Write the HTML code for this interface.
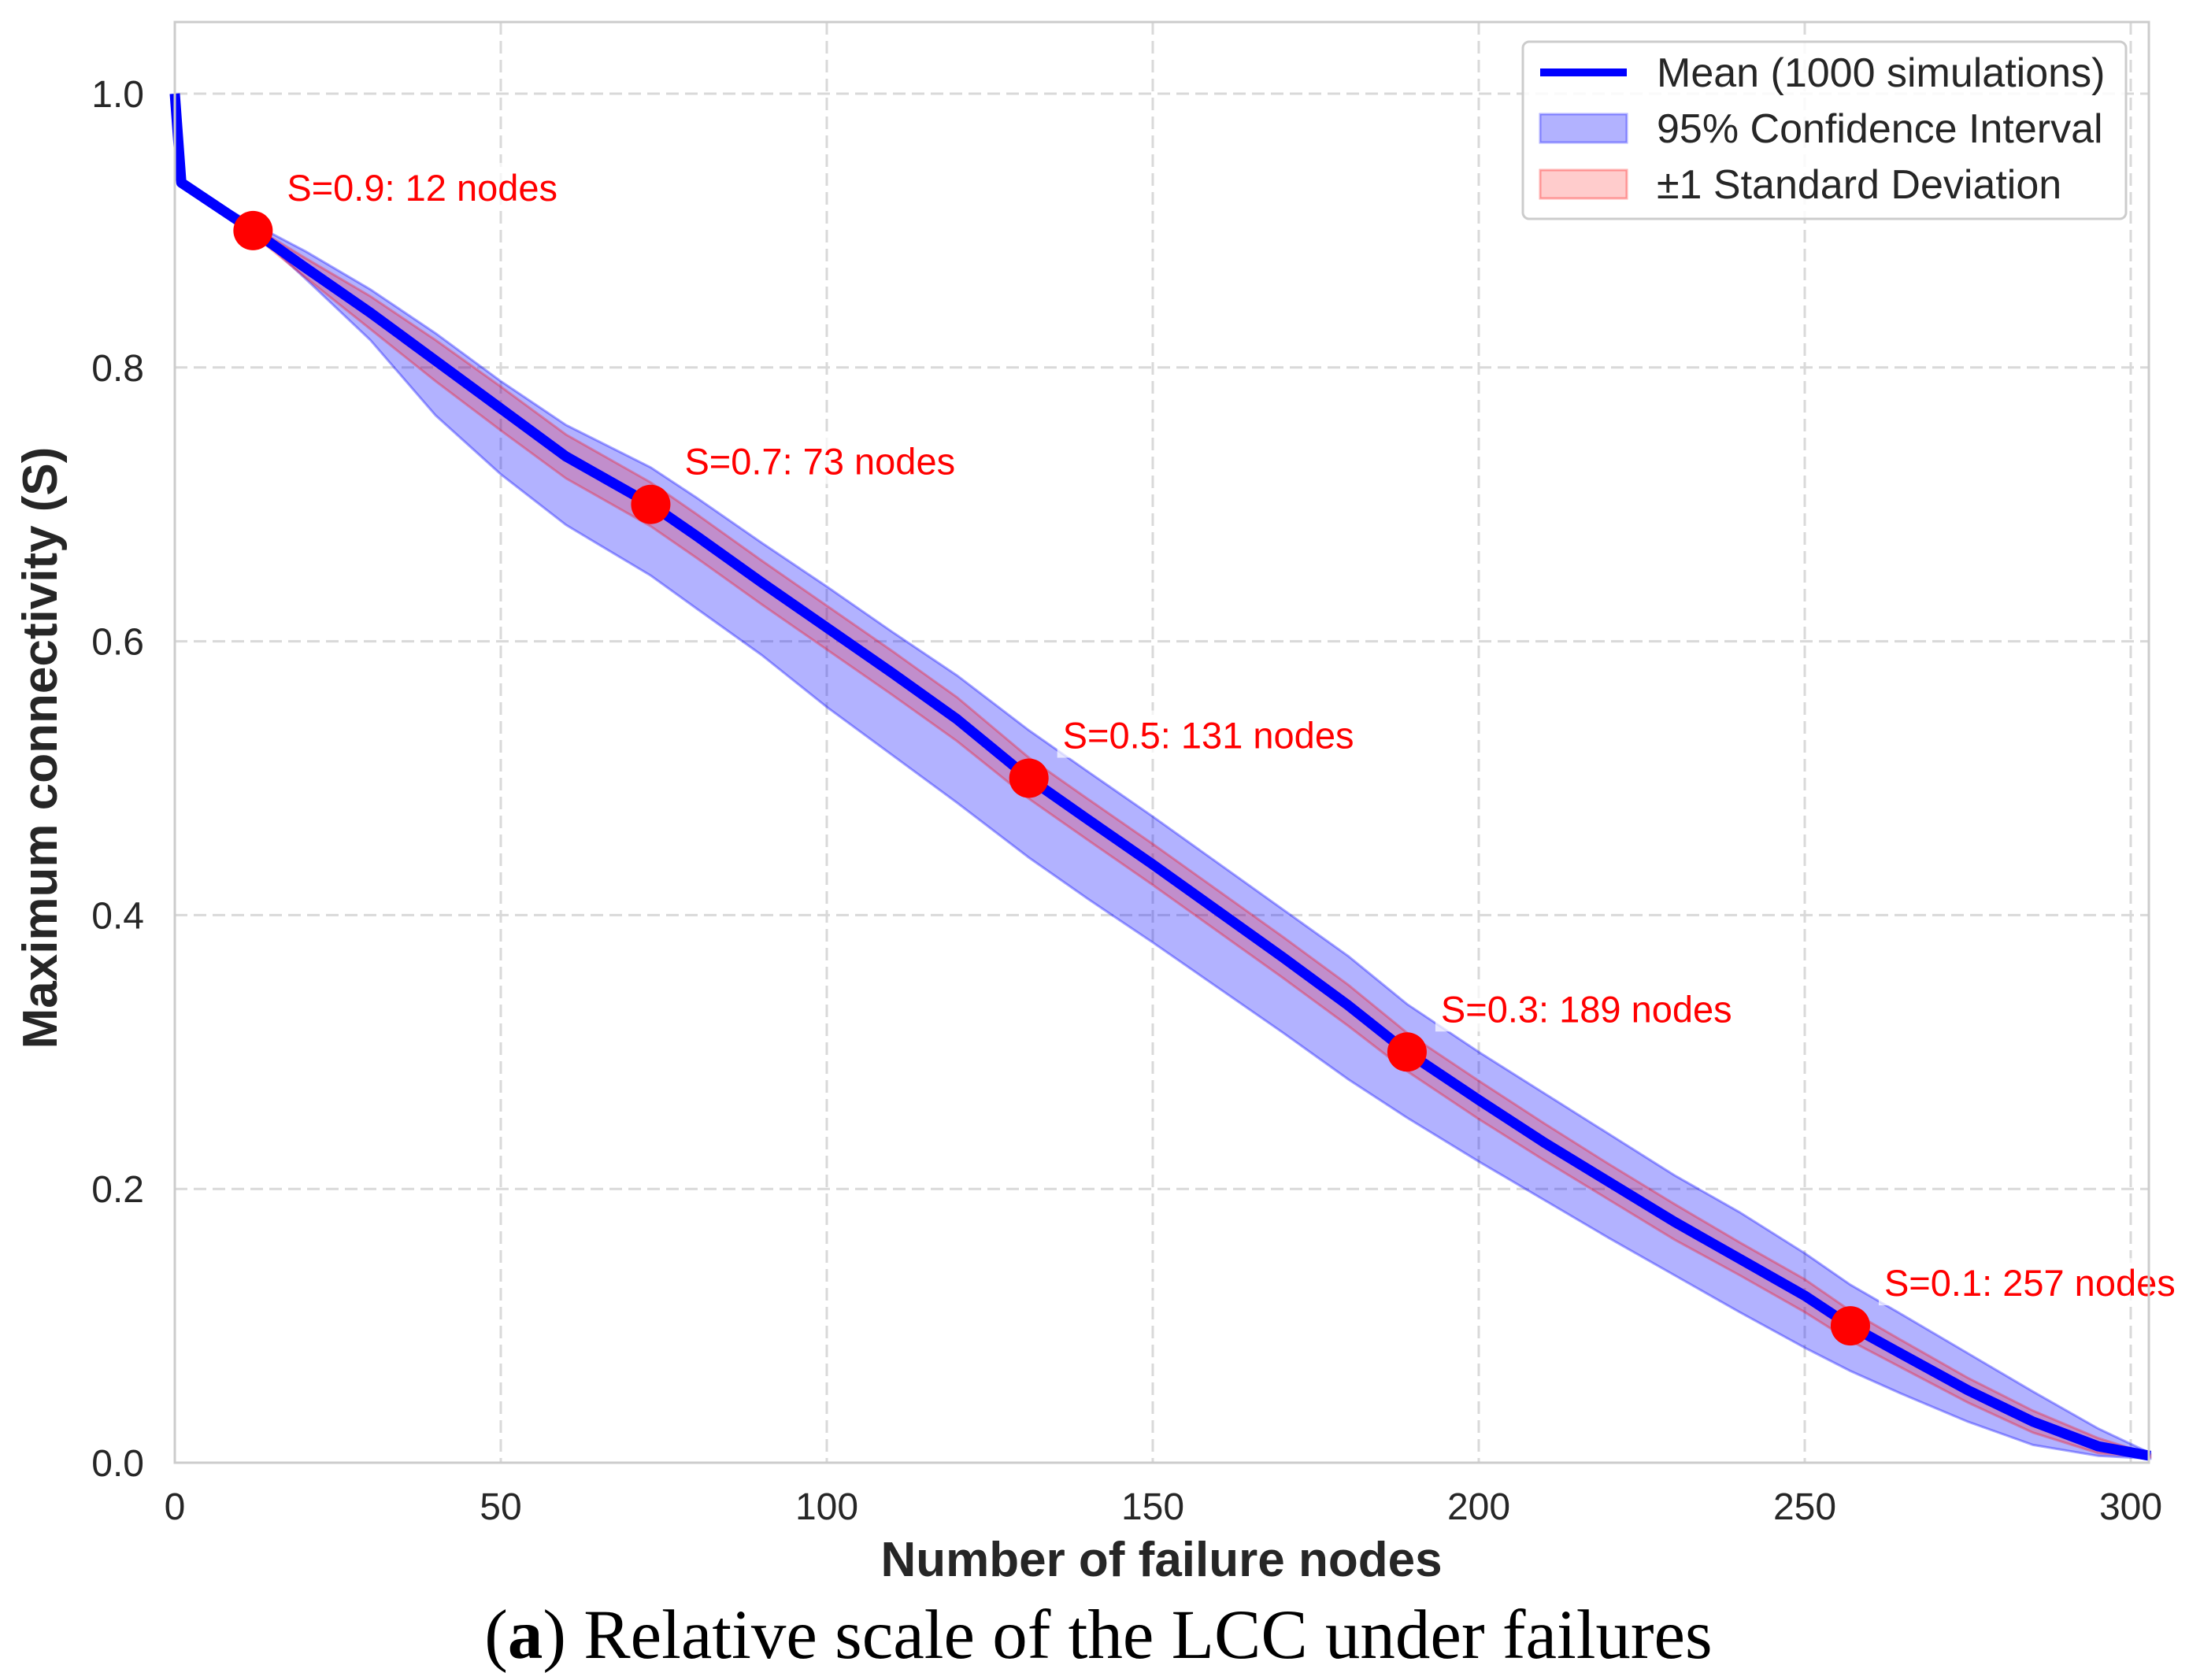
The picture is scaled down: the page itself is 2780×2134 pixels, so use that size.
<!DOCTYPE html>
<html><head><meta charset="utf-8"><style>
html,body{margin:0;padding:0;background:#fff;}
svg{display:block;font-family:"Liberation Sans",Arial,sans-serif;}
</style></head><body>
<svg id="chart" width="2780" height="2134" viewBox="0 0 2780 2134" xmlns="http://www.w3.org/2000/svg">
<g id="grid"></g>
<g id="bands"></g>
<g id="marks"></g>
<rect x="222" y="28" width="2507" height="1830" fill="none" stroke="#cccccc" stroke-width="3"/>
<g id="ticks"></g>
<text x="1475" y="2002" text-anchor="middle" font-size="62" font-weight="bold" fill="#262626">Number of failure nodes</text>
<text transform="translate(72,950) rotate(-90)" text-anchor="middle" font-size="62" font-weight="bold" fill="#262626">Maximum connectivity (S)</text>
<text x="1395" y="2106" text-anchor="middle" font-family="'Liberation Serif',serif" font-size="89" fill="#000">(<tspan font-weight="bold">a</tspan>) Relative scale of the LCC under failures</text>
<g>
<rect x="1934" y="53" width="766" height="225" rx="8" fill="#fff" fill-opacity="0.85" stroke="#cccccc" stroke-width="3"/>
<line x1="1956" y1="92" x2="2066" y2="92" stroke="#0000ff" stroke-width="10"/>
<text x="2104" y="110" font-size="52" fill="#262626">Mean (1000 simulations)</text>
<rect x="1956" y="145" width="110" height="36" fill="#0000ff" fill-opacity="0.3" stroke="#0000ff" stroke-opacity="0.3" stroke-width="3"/>
<text x="2104" y="181" font-size="52" fill="#262626">95% Confidence Interval</text>
<rect x="1956" y="216" width="110" height="36" fill="#ff0000" fill-opacity="0.2" stroke="#ff0000" stroke-opacity="0.3" stroke-width="3"/>
<text x="2104" y="252" font-size="52" fill="#262626">±1 Standard Deviation</text>
</g>
</svg>
<script>
const xs =      [0,1,12,20,30,40,50,60,73,80,90,100,110,120,131,140,150,160,170,180,189,200,210,220,230,240,250,257,265,275,285,295,303];
const meanS =   [1.0,0.935,0.9,0.873,0.84,0.805,0.77,0.735,0.7,0.677,0.643,0.61,0.577,0.543,0.5,0.47,0.437,0.403,0.369,0.334,0.3,0.265,0.234,0.205,0.176,0.149,0.122,0.1,0.079,0.053,0.03,0.012,0.005];
const ciLow =   [1.0,0.935,0.9,0.865,0.82,0.765,0.722,0.685,0.648,0.624,0.59,0.552,0.517,0.482,0.442,0.412,0.38,0.347,0.314,0.28,0.252,0.22,0.192,0.164,0.137,0.11,0.084,0.067,0.05,0.03,0.013,0.005,0.003];
const ciHigh =  [1.0,0.935,0.905,0.885,0.857,0.825,0.79,0.758,0.727,0.705,0.672,0.64,0.607,0.575,0.535,0.505,0.472,0.438,0.404,0.37,0.335,0.3,0.27,0.24,0.21,0.183,0.153,0.13,0.108,0.08,0.052,0.025,0.007];
const sdLow =   [1.0,0.935,0.897,0.866,0.828,0.79,0.754,0.719,0.684,0.661,0.627,0.594,0.561,0.527,0.485,0.455,0.422,0.388,0.354,0.319,0.286,0.251,0.221,0.192,0.163,0.137,0.11,0.089,0.069,0.044,0.022,0.007,0.004];
const sdHigh =  [1.0,0.935,0.903,0.88,0.852,0.82,0.786,0.751,0.716,0.693,0.659,0.626,0.593,0.559,0.515,0.485,0.452,0.418,0.384,0.349,0.314,0.279,0.248,0.218,0.189,0.161,0.134,0.111,0.089,0.062,0.038,0.018,0.006];
const markS =   [0.9,0.7,0.5,0.3,0.1];
const markN =   [12,73,131,189,257];
const xTicks =  [0,50,100,150,200,250,300];
const yTicks =  [0.0,0.2,0.4,0.6,0.8,1.0];

const NS='http://www.w3.org/2000/svg';
const X0=222, XU=8.28, Y0=1858, YU=1739;
const sx=v=>X0+v*XU, sy=v=>Y0-v*YU;
function mk(tag,attrs,parent){const e=document.createElementNS(NS,tag);for(const k in attrs)e.setAttribute(k,attrs[k]);parent.appendChild(e);return e;}
const grid=document.getElementById('grid'),bands=document.getElementById('bands'),marks=document.getElementById('marks'),ticks=document.getElementById('ticks');

xTicks.forEach(t=>{
  const l=mk('line',{x1:sx(t),x2:sx(t),y1:28,y2:1858,stroke:'#d9d9d9','stroke-width':3,'stroke-dasharray':'16 8'},grid);
  
  
  const tx=mk('text',{x:sx(t),y:1930,'text-anchor':'middle','font-size':48,fill:'#262626'},ticks);
  tx.textContent=t;
  
  
});
yTicks.forEach(t=>{
  const l=mk('line',{x1:222,x2:2729,y1:sy(t),y2:sy(t),stroke:'#d9d9d9','stroke-width':3,'stroke-dasharray':'16 8'},grid);
  
  
  const tx=mk('text',{x:183,y:sy(t)+17,'text-anchor':'end','font-size':48,fill:'#262626'},ticks);
  tx.textContent=t.toFixed(1);
  
  
});

function band(lo,hi){
  let d='M'+xs.map((x,i)=>sx(x)+','+sy(hi[i])).join('L');
  for(let i=xs.length-1;i>=0;i--)d+='L'+sx(xs[i])+','+sy(lo[i]);
  return d+'Z';
}
const ci=mk('path',{d:band(ciLow,ciHigh),fill:'#0000ff','fill-opacity':0.3,stroke:'#0000ff','stroke-opacity':0.35,'stroke-width':3},bands);


const sd=mk('path',{d:band(sdLow,sdHigh),fill:'#ff0000','fill-opacity':0.2,stroke:'#ff0000','stroke-opacity':0.3,'stroke-width':3},bands);


const ml=mk('path',{d:'M'+xs.map((x,i)=>sx(x)+','+sy(meanS[i])).join('L'),fill:'none',stroke:'#0000ff','stroke-width':13,'stroke-linejoin':'round'},marks);



markS.forEach((s,i)=>{
  const cx=sx(markN[i]),cy=sy(s);
  const label='S='+s.toFixed(1)+': '+markN[i]+' nodes';
  const bg=mk('rect',{x:cx+36,y:cy-86,width:label.length*26+14,height:60,fill:'#fff','fill-opacity':0.7},marks);
  
  
  const c=mk('circle',{cx:cx,cy:cy,r:25,fill:'#ff0000'},marks);
  
  
  const t=mk('text',{x:cx+43,y:cy-38,'font-size':47,fill:'#ff0000'},marks);
  t.textContent=label;
  
  
});
</script>
</body></html>
